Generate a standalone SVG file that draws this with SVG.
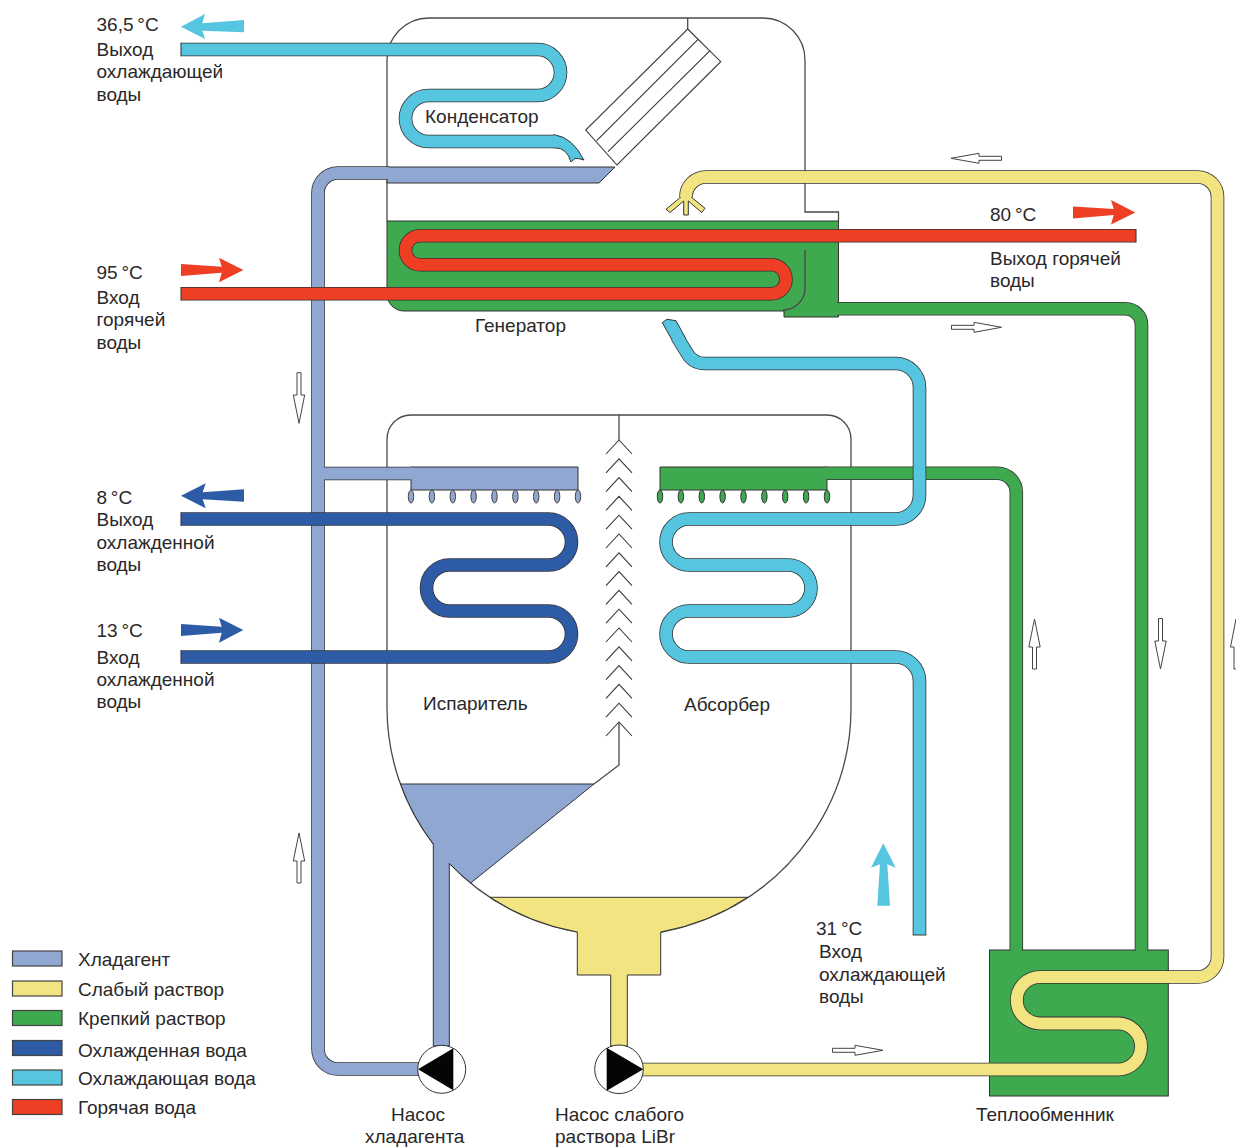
<svg xmlns="http://www.w3.org/2000/svg" width="1236" height="1147" viewBox="0 0 1236 1147">
<style>
text{font-family:"Liberation Sans",Arial,sans-serif;font-size:19px;fill:#2a2829}
.wall{fill:none;stroke:#4a4a4a;stroke-width:1.3}
.thin{fill:none;stroke:#3a3a3a;stroke-width:1.1}
.case{fill:none;stroke:#333;stroke-width:13.6}
.pipe{fill:none;stroke-width:12}
.ref{stroke:#8fa7d1}.yel{stroke:#f1e481}.grn{stroke:#3fa94f}.blu{stroke:#2e5ba6}.cya{stroke:#56c5e0}.red{stroke:#ee3e24}
.frf{fill:#8fa7d1}.fye{fill:#f1e481}.fgr{fill:#3fa94f}.fbl{fill:#2e5ba6}.fcy{fill:#56c5e0}.frd{fill:#ee3e24}
.sh{stroke:#333;stroke-width:1}
.hollow{fill:#fff;stroke:#444;stroke-width:1}
.lg{stroke:#444;stroke-width:1.2}
</style>
<defs>
<path id="p-cool1" d="M181 49.500H537.500A23 23 0 0 1 537.500 95.500H428.500A23 23 0 0 0 428.500 141.500H556"/>
<path id="p-ref" d="M389 173H338A20 20 0 0 0 318 193V1049A20 20 0 0 0 338 1069H420"/>
<path id="p-refb" d="M318 473.500H413"/>
<path id="p-yel" d="M640 1069.500H1118A23 23 0 0 0 1118 1023.400H1040A23 23 0 0 1 1040 977H1197.500A20 20 0 0 0 1217.500 957V197A20 20 0 0 0 1197.500 177H706A20 20 0 0 0 686 197"/>
<path id="p-gr1" d="M825 473.300H997.300A19 19 0 0 1 1016.300 492.300V951"/>
<path id="p-gr2" d="M837 308.700H1125.500A16 16 0 0 1 1141.500 324.700V951"/>
<path id="p-red" d="M1136 235.700H420A14.500 14.500 0 0 0 420 264.700H771.500A14.500 14.500 0 0 1 771.500 293.700H181"/>
<path id="p-blu" d="M181 519H548.500A23 23 0 0 1 548.500 565H449.500A23 23 0 0 0 449.500 611H548.500A23 23 0 0 1 548.500 657H181"/>
<path id="p-cool2" d="M677 337L687 353Q693 363.500 705 363.500H895.500A24 24 0 0 1 919.500 387.500V495A24 24 0 0 1 895.500 519H689A23 23 0 0 0 689 565H788A23 23 0 0 1 788 611H689A23 23 0 0 0 689 657H895.500A24 24 0 0 1 919.500 681V935"/>
</defs>

<g id="condenser-vessel">
<path class="wall" d="M387 221V60A42 42 0 0 1 429 18H763A42 42 0 0 1 805 60V212H838.500V221"/>
<path class="wall" d="M687.700 18V29"/>
<path fill="#fff" stroke="#3a3a3a" stroke-width="1.1" d="M687.700 29L720.700 61.700L617 165L585.700 130Z"/>
<path class="thin" d="M698 39.300L596.700 140.700M710 50.700L608 151.700"/>
</g>

<g id="absorber-evaporator-vessel">
<path class="wall" d="M433.300 844A232 227.500 0 0 1 387 708V439A24 24 0 0 1 411 415H827A24 24 0 0 1 851 439V708A232 227.500 0 0 1 449.300 863.300"/>
<path class="wall" d="M619 415V440"/>
<path class="thin" d="M606 454L619 440L632 454M606 472.800L619 458.800L632 472.800M606 491.600L619 477.600L632 491.600M606 510.400L619 496.400L632 510.400M606 529.200L619 515.200L632 529.200M606 548L619 534L632 548M606 566.800L619 552.800L632 566.800M606 585.600L619 571.600L632 585.600M606 604.400L619 590.400L632 604.400M606 623.200L619 609.200L632 623.200M606 642L619 628L632 642M606 660.800L619 646.800L632 660.800M606 679.600L619 665.600L632 679.600M606 698.400L619 684.400L632 698.400M606 717.200L619 703.200L632 717.200M606 736L619 722L632 736"/>
<path class="wall" d="M619 722V765L594 784"/>
</g>

<g id="generator">
<path class="fgr sh" d="M387 221H838.500V317H784V311H404A17 17 0 0 1 387 294Z"/>
<path class="wall" d="M805 250V288A22 22 0 0 1 783 310"/>
</g>

<g id="heat-exchanger"><rect class="fgr sh" x="989.500" y="950" width="178.800" height="146"/></g>

<g id="connectors">
<use href="#p-ref" class="case"/><use href="#p-refb" class="case"/>
<path class="frf sh" d="M387 167H615L599 183H387Z"/>
<path class="frf sh" d="M411 467H578V490H411Z"/>
<use href="#p-ref" class="pipe ref"/><use href="#p-refb" class="pipe ref"/>
<path class="frf sh" d="M400.500 784H594L470.700 883A232 227.500 0 0 1 449.300 863.300V1046H433.300V844A232 227.500 0 0 1 400.500 784Z"/>
<path class="fye sh" d="M490 897.300H747.700A232 227.500 0 0 1 660.700 932V975H627.300V1046H610.700V975H577.300V932A232 227.500 0 0 1 490 897.300Z"/>

<g stroke="#444" stroke-width="1" class="frf">
<ellipse cx="411" cy="496.500" rx="2.700" ry="6.500"/><ellipse cx="431.900" cy="496.500" rx="2.700" ry="6.500"/><ellipse cx="452.800" cy="496.500" rx="2.700" ry="6.500"/><ellipse cx="473.600" cy="496.500" rx="2.700" ry="6.500"/><ellipse cx="494.500" cy="496.500" rx="2.700" ry="6.500"/><ellipse cx="515.400" cy="496.500" rx="2.700" ry="6.500"/><ellipse cx="536.200" cy="496.500" rx="2.700" ry="6.500"/><ellipse cx="557.100" cy="496.500" rx="2.700" ry="6.500"/><ellipse cx="578" cy="496.500" rx="2.700" ry="6.500"/>
</g>
<g stroke="#333" stroke-width="1" class="fgr">
<ellipse cx="660" cy="496.500" rx="2.700" ry="6.500"/><ellipse cx="680.900" cy="496.500" rx="2.700" ry="6.500"/><ellipse cx="701.800" cy="496.500" rx="2.700" ry="6.500"/><ellipse cx="722.600" cy="496.500" rx="2.700" ry="6.500"/><ellipse cx="743.500" cy="496.500" rx="2.700" ry="6.500"/><ellipse cx="764.400" cy="496.500" rx="2.700" ry="6.500"/><ellipse cx="785.200" cy="496.500" rx="2.700" ry="6.500"/><ellipse cx="806.100" cy="496.500" rx="2.700" ry="6.500"/><ellipse cx="827" cy="496.500" rx="2.700" ry="6.500"/>
</g>

<use href="#p-gr1" class="case"/>
<path class="fgr sh" d="M660 467H827V490H660Z"/>
<use href="#p-gr1" class="pipe grn"/>
<use href="#p-gr2" class="case"/><use href="#p-gr2" class="pipe grn"/>

<use href="#p-yel" class="case"/>
<path class="fye sh" d="M682 196L666 209.300L670 212.500L683.700 201V215H688.300V201L701.700 212.500L705 208.300L690 196Z"/>
<use href="#p-yel" class="pipe yel"/>

<use href="#p-red" class="case"/><use href="#p-red" class="pipe red"/>
<use href="#p-blu" class="case"/><use href="#p-blu" class="pipe blu"/>
<use href="#p-cool1" class="case"/>
<path class="fcy sh" d="M553 135H555Q572 137 584 160Q578 158 575 158.500L571 162Q567 148 555 147.700H553Z"/>
<use href="#p-cool1" class="pipe cya"/>
<use href="#p-cool2" class="case"/>
<path class="fcy sh" d="M662.300 322.700L667 319.300L676 320.700L686 339L680 345L672 340Z"/>
<use href="#p-cool2" class="pipe cya"/>
<path class="thin" d="M181 42.800V56.200M181 287V300.400M1136 229V242.400M181 512.300V525.700M181 650.300V663.700M912.700 935H926.300"/>
</g>

<g id="pump-refrigerant">
<circle cx="441.700" cy="1069.300" r="24" fill="#fff" stroke="#333" stroke-width="1"/>
<path fill="#050505" d="M418 1069.300L453.300 1048.300V1090.300Z"/>
</g>
<g id="pump-weak-solution">
<circle cx="619" cy="1069.300" r="24.300" fill="#fff" stroke="#333" stroke-width="1"/>
<path fill="#050505" d="M606.700 1047.700L643.300 1069.300L606.700 1090.700Z"/>
</g>

<g id="flow-arrows">
<path class="fcy" d="M181 26.700L205 14L202.300 23.300L244 20V32.300L202.300 30.700L205 39Z"/>
<path class="frd" d="M243.300 270L219 257.700L221.700 266.700L181 264V276L221.700 272.700L219 282.300Z"/>
<path class="frd" d="M1135.300 212.500L1111 200L1113.700 209L1073 206.500V218.500L1113.700 215L1111 224.600Z"/>
<path class="fbl" d="M181 495.700L205.700 483.300L202.700 492.300L244 489.300V501.700L202.700 499.300L205.700 508.300Z"/>
<path class="fbl" d="M243.300 630L219 617.700L221.700 626.700L181 624V636L221.700 632.700L219 642.700Z"/>
<path class="fcy" d="M883.300 843.300L895.700 867.700L887.300 864.300L890 905.700H877.300L880 864.300L871 867.700Z"/>
<path class="hollow" d="M951 158.300L979 153.300V156.300H1001.500V160.300H979V163.300Z"/>
<path class="hollow" d="M1001.500 327.300L974 322.300V325.300H951.500V329.300H974V332.300Z"/>
<path class="hollow" d="M883 1050.300L855 1045.300V1048.300H832.500V1052.300H855V1055.300Z"/>
<path class="hollow" d="M299 423.300L293.300 395H297V372.700H301V395H304.700Z"/>
<path class="hollow" d="M299 833L293.300 861H297V883H301V861H304.700Z"/>
<path class="hollow" d="M1034.500 619L1028.800 647H1032.500V669H1036.500V647H1040.200Z"/>
<path class="hollow" d="M1160.500 669L1154.800 641H1158.500V618.500H1162.500V641H1166.200Z"/>
<path class="hollow" d="M1236 619L1230.500 647H1234V669H1238V647H1241.700Z"/>
</g>

<g id="labels">
<text x="96.500" y="31">36,5&#8201;°C</text><text x="96.500" y="56">Выход</text><text x="96.500" y="78">охлаждающей</text><text x="96.500" y="101">воды</text>
<text x="96.500" y="279">95&#8201;°C</text><text x="96.500" y="304">Вход</text><text x="96.500" y="326">горячей</text><text x="96.500" y="349">воды</text>
<text x="96.500" y="504">8&#8201;°C</text><text x="96.500" y="526">Выход</text><text x="96.500" y="549">охлажденной</text><text x="96.500" y="571">воды</text>
<text x="96.500" y="637">13&#8201;°C</text><text x="96.500" y="664">Вход</text><text x="96.500" y="686">охлажденной</text><text x="96.500" y="708">воды</text>
<text x="425" y="123">Конденсатор</text><text x="475" y="332">Генератор</text><text x="423" y="710">Испаритель</text><text x="684" y="711">Абсорбер</text>
<text x="990" y="221">80&#8201;°C</text><text x="990" y="265">Выход горячей</text><text x="990" y="287">воды</text>
<text x="816" y="935">31&#8201;°C</text><text x="819" y="958">Вход</text><text x="819" y="981">охлаждающей</text><text x="819" y="1003">воды</text>
<text x="391" y="1121">Насос</text><text x="365" y="1143">хладагента</text>
<text x="555" y="1121">Насос слабого</text><text x="555" y="1143">раствора LiBr</text>
<text x="976" y="1121">Теплообменник</text>
</g>

<g id="legend">
<rect class="frf lg" x="12.500" y="951" width="49.500" height="15"/><text x="78" y="966">Хладагент</text>
<rect class="fye lg" x="12.500" y="981" width="49.500" height="15"/><text x="78" y="996">Слабый раствор</text>
<rect class="fgr lg" x="12.500" y="1010.500" width="49.500" height="15"/><text x="78" y="1025">Крепкий раствор</text>
<rect class="fbl lg" x="12.500" y="1040.500" width="49.500" height="15"/><text x="78" y="1057">Охлажденная вода</text>
<rect class="fcy lg" x="12.500" y="1070" width="49.500" height="15"/><text x="78" y="1085">Охлаждающая вода</text>
<rect class="frd lg" x="12.500" y="1099.500" width="49.500" height="15"/><text x="78" y="1114">Горячая вода</text>
</g>
</svg>
